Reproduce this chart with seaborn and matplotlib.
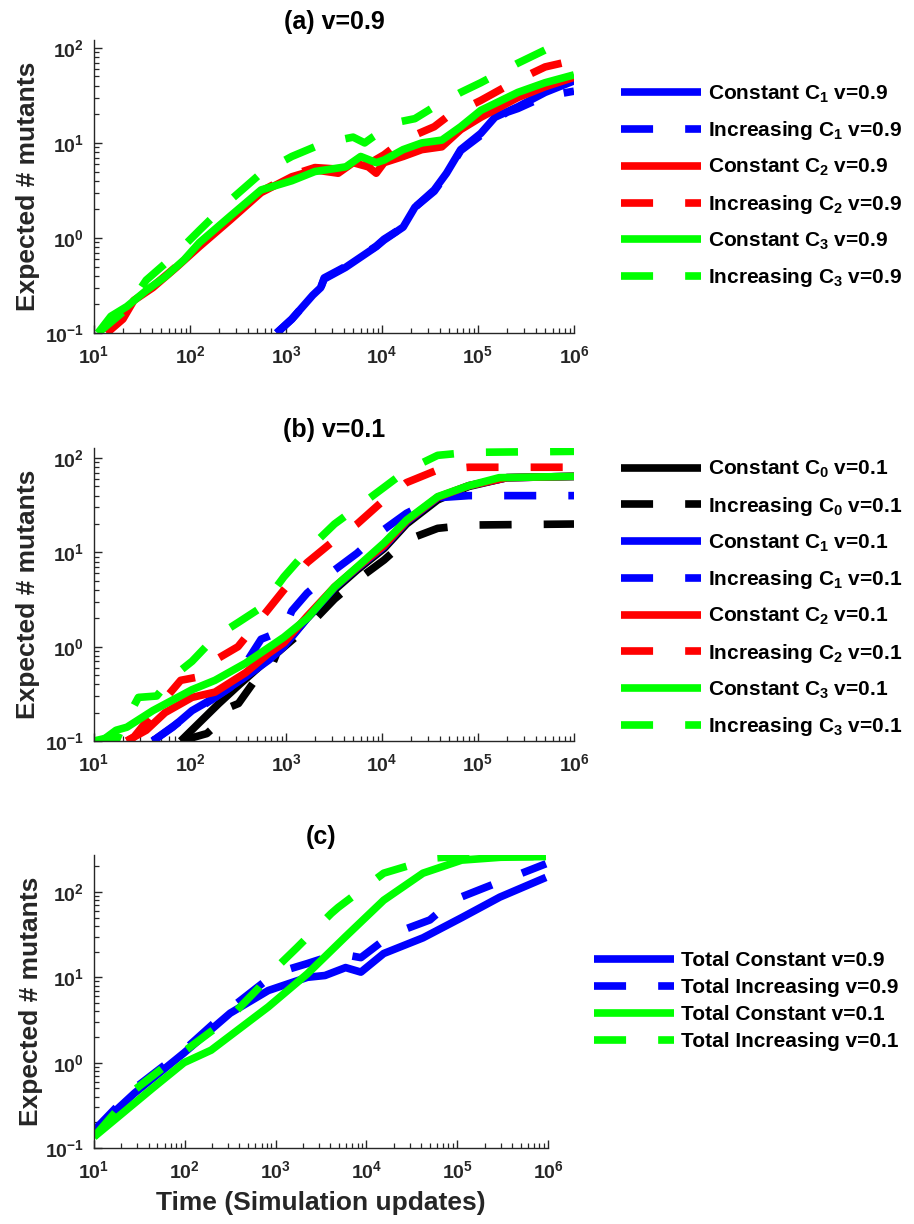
import numpy as np
import pandas as pd
import matplotlib
matplotlib.use("Agg")
import matplotlib.pyplot as plt
import seaborn as sns
from matplotlib.ticker import LogLocator, NullFormatter, FixedLocator

# ---------------- data ----------------
# Panel (a) v=0.9
a_x_c1_const = [800, 1150, 1900, 2300, 2500, 4170, 8700, 10500, 16600, 22000, 35000, 47000, 66000, 107000, 150000, 260000, 500000, 1000000]
a_y_c1_const = [0.10, 0.14, 0.25, 0.30, 0.37, 0.49, 0.81, 0.95, 1.3, 2.1, 3.2, 4.8, 8.5, 12.6, 18.6, 24, 34, 45]
a_x_c1_inc = [800, 1150, 1900, 2300, 2500, 4170, 8700, 10500, 16600, 22000, 35000, 47000, 66000, 107000, 150000, 200000, 260000, 400000, 600000, 1000000]
a_y_c1_inc = [0.10, 0.14, 0.25, 0.30, 0.38, 0.50, 0.82, 0.97, 1.3, 2.1, 3.1, 4.7, 8.3, 12.0, 17.5, 21, 23, 28, 32, 35]
a_x_c2_const = [13.6, 20, 26, 41, 72, 125, 263, 550, 1150, 2000, 3500, 5000, 7200, 8700, 10500, 16600, 26000, 42000, 66000, 107000, 260000, 500000, 1000000]
a_y_c2_const = [0.10, 0.14, 0.22, 0.30, 0.49, 0.81, 1.55, 3.0, 4.4, 5.2, 4.8, 6.2, 5.6, 4.8, 6.2, 7.2, 8.5, 9.1, 13.8, 18.6, 30, 39, 49]
a_x_c2_inc = [13.6, 20, 26, 41, 72, 125, 263, 550, 1150, 2000, 3500, 5000, 7200, 10500, 16600, 35000, 47000, 107000, 260000, 500000, 1000000]
a_y_c2_inc = [0.10, 0.15, 0.23, 0.31, 0.50, 0.84, 1.6, 3.1, 4.6, 5.5, 5.3, 6.6, 6.0, 7.5, 10.7, 14.8, 18.6, 28, 46, 63, 74]
a_x_c3_const = [11, 15, 22, 35, 55, 87, 125, 263, 550, 1150, 2000, 4200, 6000, 8700, 10500, 16600, 26000, 42000, 66000, 107000, 260000, 500000, 1000000]
a_y_c3_const = [0.10, 0.15, 0.19, 0.28, 0.39, 0.59, 0.89, 1.7, 3.2, 4.0, 5.0, 5.6, 7.2, 6.2, 6.6, 8.5, 10, 10.7, 14.8, 22, 34, 43, 52]
a_x_c3_inc = [11, 22, 35, 66, 125, 263, 550, 1150, 2000, 3500, 5000, 6600, 8000, 14000, 22000, 35000, 66000, 107000, 260000, 500000, 1000000]
a_y_c3_inc = [0.10, 0.18, 0.36, 0.63, 1.2, 2.5, 4.8, 7.2, 9.1, 10.7, 11.5, 10.0, 11.5, 16.4, 18, 24, 34, 43, 69, 95, 112]

# Panel (b) v=0.1
b_x_c0_const = [80, 120, 200, 330, 660, 1000, 1660, 3200, 5500, 10500, 18000, 38000, 80000, 200000, 1000000]
b_y_c0_const = [0.10, 0.15, 0.25, 0.40, 0.75, 1.1, 2.0, 4.0, 6.5, 11, 20, 36, 50, 62, 64]
b_x_c0_inc = [80, 150, 220, 263, 320, 460, 660, 800, 1150, 1660, 3200, 5500, 10500, 18000, 38000, 80000, 1000000]
b_y_c0_inc = [0.10, 0.12, 0.17, 0.23, 0.25, 0.42, 0.52, 0.85, 1.17, 1.6, 3.2, 5.1, 8.3, 13.5, 18, 19.5, 20]
b_x_c1_const = [41, 66, 105, 182, 380, 660, 950, 1660, 3200, 5500, 10500, 18000, 38000, 80000, 200000, 1000000]
b_y_c1_const = [0.10, 0.14, 0.21, 0.29, 0.48, 0.72, 1.0, 2.0, 4.2, 6.8, 11.5, 21, 38, 51, 62, 64]
b_x_c1_inc = [41, 105, 263, 550, 950, 1150, 1660, 3200, 5500, 10500, 18000, 38000, 80000, 1000000]
b_y_c1_inc = [0.10, 0.20, 0.37, 1.2, 1.5, 2.4, 3.7, 6.5, 9.8, 17.5, 26, 38, 40, 40]
b_x_c2_const = [22, 35, 55, 105, 182, 380, 660, 950, 1660, 3200, 5500, 10500, 18000, 38000, 80000, 200000, 1000000]
b_y_c2_const = [0.10, 0.13, 0.20, 0.29, 0.33, 0.53, 0.85, 1.1, 2.1, 4.3, 6.9, 11.8, 21.5, 38.5, 51, 62, 64]
b_x_c2_inc = [22, 26, 50, 80, 125, 182, 316, 550, 950, 1660, 3200, 5500, 10500, 18000, 38000, 80000, 1000000]
b_y_c2_inc = [0.10, 0.11, 0.25, 0.44, 0.48, 0.72, 1.0, 2.0, 4.0, 7.8, 13.5, 20, 36, 55, 75, 80, 80]
b_x_c3_const = [10, 12, 17, 22, 41, 105, 182, 380, 950, 1660, 3200, 5500, 10500, 18000, 38000, 80000, 166000, 400000, 1000000]
b_y_c3_const = [0.10, 0.10, 0.13, 0.14, 0.21, 0.35, 0.44, 0.67, 1.26, 2.0, 4.3, 7.0, 12.6, 22, 39, 51, 62, 63, 64]
b_x_c3_inc = [10, 15, 17, 19, 29, 45, 66, 105, 182, 316, 550, 950, 1660, 3200, 5500, 10500, 18000, 38000, 80000, 1000000]
b_y_c3_inc = [0.10, 0.11, 0.10, 0.13, 0.29, 0.30, 0.48, 0.70, 1.26, 1.8, 2.6, 5.5, 10.5, 20, 30, 49, 74, 107, 115, 118]

# Panel (c) totals
c_x_const09 = [10, 28, 98, 316, 830, 2240, 3500, 5900, 8700, 15500, 42000, 112000, 295000, 950000]
c_y_const09 = [0.16, 0.44, 1.3, 3.8, 7.0, 10.0, 10.5, 13, 11.5, 19, 29, 50, 87, 148]
c_x_inc09 = [10, 28, 98, 316, 1000, 2240, 4900, 8700, 19000, 50000, 90000, 200000, 950000]
c_y_inc09 = [0.16, 0.50, 1.4, 4.3, 11.2, 14.5, 19, 17, 32, 47, 80, 112, 214]
c_x_const01 = [10, 45, 98, 195, 830, 2240, 5900, 15500, 42000, 112000, 300000, 950000]
c_y_const01 = [0.135, 0.51, 1.0, 1.4, 4.5, 11, 30, 80, 166, 236, 255, 260]
c_x_inc01 = [10, 28, 98, 316, 650, 1020, 1700, 4100, 4900, 15500, 56000, 100000, 950000]
c_y_inc01 = [0.135, 0.48, 1.35, 3.4, 7.5, 13, 22, 56, 66, 166, 250, 260, 260]

x_ticks = [1e1, 1e2, 1e3, 1e4, 1e5, 1e6]
titles = ["(a) v=0.9", "(b) v=0.1", "(c)"]

# ---------------- style ----------------
sns.set_theme(style="white")
plt.rcParams['font.family'] = ['Liberation Sans', 'DejaVu Sans']
plt.rcParams['font.weight'] = 'bold'
plt.rcParams['mathtext.fontset'] = 'custom'
plt.rcParams['mathtext.rm'] = 'Liberation Sans:bold'
plt.rcParams['mathtext.it'] = 'Liberation Sans:bold'
plt.rcParams['mathtext.bf'] = 'Liberation Sans:bold'
plt.rcParams['mathtext.default'] = 'regular'

W, H = 914, 1224
fig = plt.figure(figsize=(W / 100, H / 100), dpi=100)

def rect(l, t, r, b):
    return [l / W, 1 - b / H, (r - l) / W, (b - t) / H]

axA = fig.add_axes(rect(94, 40, 574, 333))
axB = fig.add_axes(rect(94, 448, 574, 741))
axC = fig.add_axes(rect(94, 855, 548, 1148))

LW = 5.5
DASH = (0, (4.2, 4.2))
GRAY = '#262626'

def draw(ax, x, y, color, dashed, label):
    sns.lineplot(x=x, y=y, ax=ax, color=color, linewidth=LW, label=label,
                 estimator=None, sort=False,
                 linestyle=DASH if dashed else '-',
                 solid_capstyle='butt', dash_capstyle='butt')

def style(ax, ylim, title):
    ax.set_xscale('log')
    ax.set_yscale('log')
    ax.set_xlim(10, 1e6)
    ax.set_ylim(*ylim)
    ax.xaxis.set_major_locator(FixedLocator(x_ticks))
    ax.xaxis.set_minor_locator(LogLocator(base=10, subs=np.arange(2, 10), numticks=30))
    ax.yaxis.set_major_locator(LogLocator(base=10, numticks=10))
    ax.yaxis.set_minor_locator(LogLocator(base=10, subs=np.arange(2, 10), numticks=30))
    ax.yaxis.set_minor_formatter(NullFormatter())
    ax.xaxis.set_minor_formatter(NullFormatter())
    ax.tick_params(which='both', direction='in', top=False, right=False,
                   bottom=True, left=True, colors=GRAY, labelsize=14)
    ax.tick_params(which='major', length=6, width=1)
    ax.tick_params(which='minor', length=3.5, width=0.9)
    ax.tick_params(axis='x', which='major', pad=9)
    ax.tick_params(axis='y', which='major', pad=7)
    for s in ['top', 'right']:
        ax.spines[s].set_visible(False)
    for s in ['left', 'bottom']:
        ax.spines[s].set_color(GRAY)
        ax.spines[s].set_linewidth(1.0)
    ax.set_ylabel('Expected # mutants', fontsize=19, fontweight='bold', color=GRAY)
    ax.yaxis.set_label_coords(-0.113, 0.5)
    ax.set_xlabel('')
    ax.set_title(title, fontsize=18, fontweight='bold', color='black', pad=8)
    ax.grid(False)

# Panel (a)
draw(axA, a_x_c1_const, a_y_c1_const, 'blue', False, r'Constant C$_1$ v=0.9')
draw(axA, a_x_c1_inc, a_y_c1_inc, 'blue', True, r'Increasing C$_1$ v=0.9')
draw(axA, a_x_c2_const, a_y_c2_const, 'red', False, r'Constant C$_2$ v=0.9')
draw(axA, a_x_c2_inc, a_y_c2_inc, 'red', True, r'Increasing C$_2$ v=0.9')
draw(axA, a_x_c3_const, a_y_c3_const, 'lime', False, r'Constant C$_3$ v=0.9')
draw(axA, a_x_c3_inc, a_y_c3_inc, 'lime', True, r'Increasing C$_3$ v=0.9')
style(axA, (0.1, 121), titles[0])

# Panel (b)
draw(axB, b_x_c0_const, b_y_c0_const, 'black', False, r'Constant C$_0$ v=0.1')
draw(axB, b_x_c0_inc, b_y_c0_inc, 'black', True, r'Increasing C$_0$ v=0.1')
draw(axB, b_x_c1_const, b_y_c1_const, 'blue', False, r'Constant C$_1$ v=0.1')
draw(axB, b_x_c1_inc, b_y_c1_inc, 'blue', True, r'Increasing C$_1$ v=0.1')
draw(axB, b_x_c2_const, b_y_c2_const, 'red', False, r'Constant C$_2$ v=0.1')
draw(axB, b_x_c2_inc, b_y_c2_inc, 'red', True, r'Increasing C$_2$ v=0.1')
draw(axB, b_x_c3_const, b_y_c3_const, 'lime', False, r'Constant C$_3$ v=0.1')
draw(axB, b_x_c3_inc, b_y_c3_inc, 'lime', True, r'Increasing C$_3$ v=0.1')
style(axB, (0.1, 128), titles[1])

# Panel (c)
draw(axC, c_x_const09, c_y_const09, 'blue', False, 'Total Constant v=0.9')
draw(axC, c_x_inc09, c_y_inc09, 'blue', True, 'Total Increasing v=0.9')
draw(axC, c_x_const01, c_y_const01, 'lime', False, 'Total Constant v=0.1')
draw(axC, c_x_inc01, c_y_inc01, 'lime', True, 'Total Increasing v=0.1')
style(axC, (0.1, 271), titles[2])
axC.set_xlabel('Time (Simulation updates)', fontsize=19, fontweight='bold', color=GRAY, labelpad=6)

def legend(ax, x_px, yc_px, spacing):
    ax.legend(loc='center left', bbox_to_anchor=(x_px / W, 1 - yc_px / H),
              bbox_transform=fig.transFigure, frameon=False, fontsize=15,
              handlelength=3.85, handletextpad=0.33, labelspacing=spacing,
              borderpad=0, borderaxespad=0, labelcolor='black')

legend(axA, 621, 186.5, 0.7)
legend(axB, 621, 598.5, 0.7)
legend(axC, 594, 1001, 0.38)

fig.savefig('out.png', dpi=100)
